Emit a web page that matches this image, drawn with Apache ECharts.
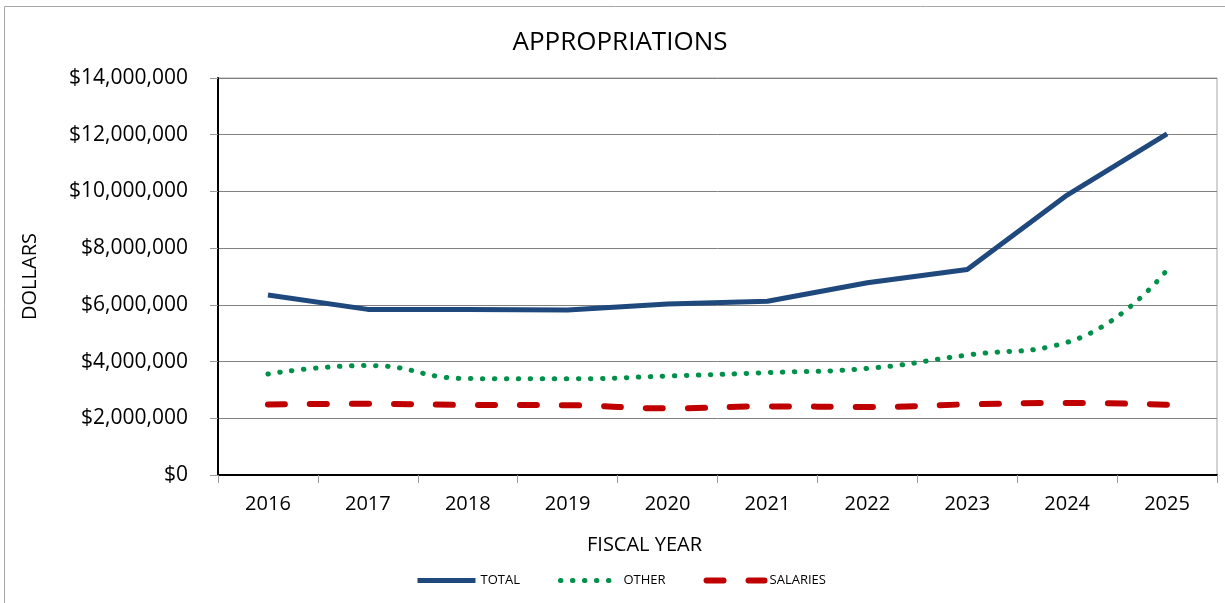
<!DOCTYPE html>
<html>
<head>
<meta charset="utf-8">
<title>Appropriations</title>
<script src="https://cdn.jsdelivr.net/npm/echarts@6/dist/echarts.min.js"></script>
<style>
  html, body { margin: 0; padding: 0; background: #fff; }
  #chart { width: 1225px; height: 603px; }
</style>
</head>
<body>
<div id="chart"></div>
<script>
// fiscal years on the x axis
const years = ['2016', '2017', '2018', '2019', '2020', '2021', '2022', '2023', '2024', '2025']
// dollars
const total = [6350000, 5840000, 5840000, 5820000, 6030000, 6130000, 6780000, 7250000, 9870000, 12030000]
const other = [3560000, 3860000, 3400000, 3390000, 3490000, 3610000, 3760000, 4230000, 4680000, 7230000]
const salaries = [2490000, 2510000, 2470000, 2460000, 2350000, 2420000, 2400000, 2490000, 2540000, 2480000]

const font = '"Open Sans", "Noto Sans", sans-serif'

const fmtDollars = v => '$' + v.toLocaleString('en-US')

const chart = echarts.init(document.getElementById('chart'), null, { renderer: 'canvas' })
chart.setOption({
  animation: false,
  textStyle: { fontFamily: font, color: '#000' },
  title: {
    text: 'APPROPRIATIONS',
    left: 615,
    textAlign: 'center',
    top: 25,
    textStyle: { fontFamily: font, fontSize: 26, fontWeight: 'normal', color: '#000' }
  },
  graphic: [{
    type: 'rect',
    shape: { x: 4.5, y: 6.5, width: 1300, height: 700 },
    style: { fill: 'none', stroke: '#a6a6a6', lineWidth: 1 },
    silent: true
  }],
  legend: {
    left: 410,
    top: 569,
    itemWidth: 58,
    itemHeight: 14,
    itemGap: 38,
    itemStyle: { opacity: 0 },
    lineStyle: { width: 'inherit' },
    textStyle: { fontFamily: font, fontSize: 13, color: '#000' },
    data: ['TOTAL', 'OTHER', 'SALARIES']
  },
  grid: {
    left: 218,
    top: 78,
    right: 8,
    bottom: 128,
    show: true,
    borderColor: '#a6a6a6',
    borderWidth: 1
  },
  xAxis: {
    type: 'category',
    data: years,
    boundaryGap: true,
    name: 'FISCAL YEAR',
    nameLocation: 'middle',
    nameGap: 60,
    nameTextStyle: { fontFamily: font, fontSize: 20, color: '#000', padding: [0, 146, 0, 0] },
    axisLine: { lineStyle: { color: '#000', width: 2 } },
    axisTick: { show: true, length: 8, lineStyle: { color: '#999' } },
    axisLabel: { fontFamily: font, fontSize: 20, color: '#000', margin: 19 }
  },
  yAxis: {
    type: 'value',
    min: 0,
    max: 14000000,
    interval: 2000000,
    name: 'DOLLARS',
    nameLocation: 'middle',
    nameGap: 178,
    nameTextStyle: { fontFamily: font, fontSize: 20, color: '#000' },
    axisLine: { show: true, lineStyle: { color: '#000', width: 2 } },
    axisTick: { show: true, length: 8, lineStyle: { color: '#999' } },
    axisLabel: { fontFamily: font, fontSize: 21, color: '#000', margin: 30, formatter: fmtDollars },
    splitLine: { lineStyle: { color: '#808080', width: 1 } }
  },
  series: [
    {
      name: 'TOTAL',
      type: 'line',
      data: total,
      symbol: 'none',
      lineStyle: { color: '#1F497D', width: 5 },
      itemStyle: { color: '#1F497D' },
      z: 4
    },
    {
      name: 'OTHER',
      type: 'line',
      data: other,
      smooth: true,
      symbol: 'none',
      lineStyle: { color: '#00904A', width: 5, type: [0.5, 11.5], cap: 'round' },
      itemStyle: { color: '#00904A' },
      z: 3
    },
    {
      name: 'SALARIES',
      type: 'line',
      data: salaries,
      smooth: true,
      symbol: 'none',
      lineStyle: { color: '#C00000', width: 6, type: [17, 25], cap: 'round' },
      itemStyle: { color: '#C00000' },
      z: 2
    }
  ]
})
</script>
</body>
</html>
